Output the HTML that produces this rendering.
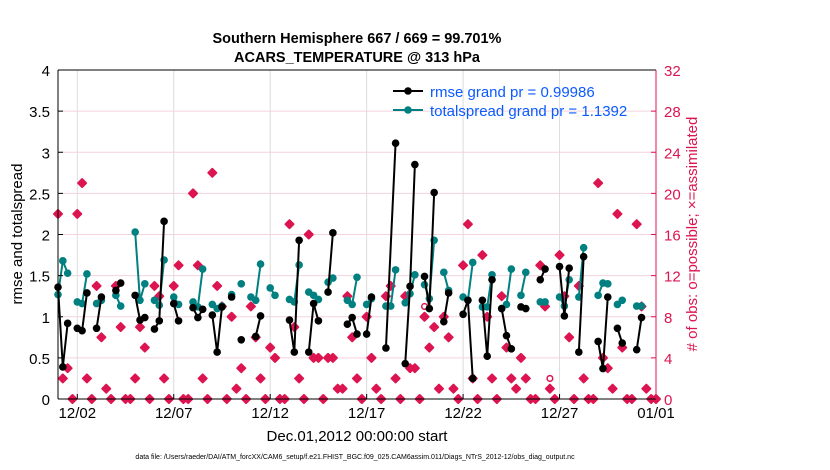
<!DOCTYPE html>
<html><head><meta charset="utf-8"><style>
body{margin:0;background:#fff;}
svg{display:block;font-family:"Liberation Sans",sans-serif;}
</style></head><body>
<svg id="chart" width="830" height="470">
<text x="357" y="43" text-anchor="middle" font-size="14.5" font-weight="bold">Southern Hemisphere 667 / 669 = 99.701%</text>
<text x="357" y="62" text-anchor="middle" font-size="14.5" font-weight="bold">ACARS_TEMPERATURE @ 313 hPa</text>
<g id="grid"></g><g id="marks"></g><g id="axes"></g>
<text transform="translate(22,234) rotate(-90)" text-anchor="middle" font-size="15">rmse and totalspread</text>
<text transform="translate(697,234) rotate(-90)" text-anchor="middle" font-size="15" fill="#dc1450"># of obs: o=possible; ×=assimilated</text>
<text x="357" y="441" text-anchor="middle" font-size="15">Dec.01,2012 00:00:00 start</text>
<text x="355" y="459" text-anchor="middle" font-size="7">data file: /Users/raeder/DAI/ATM_forcXX/CAM6_setup/f.e21.FHIST_BGC.f09_025.CAM6assim.011/Diags_NTrS_2012-12/obs_diag_output.nc</text>
<g>
<line x1="393" y1="91" x2="423" y2="91" stroke="#000" stroke-width="2"/><circle cx="408" cy="91" r="3.8" fill="#000"/>
<text x="430" y="97" font-size="15" fill="#0a5aff">rmse grand pr = 0.99986</text>
<line x1="393" y1="110" x2="423" y2="110" stroke="#008080" stroke-width="2"/><circle cx="408" cy="110" r="3.8" fill="#008080"/>
<text x="430" y="116" font-size="15" fill="#0a5aff">totalspread grand pr = 1.1392</text>
</g>
</svg>
<script>
const rmseT=[0,0.25,0.5,null,1,1.25,1.5,null,2,2.25,null,3,3.25,null,4,4.25,4.5,null,5,5.25,5.5,null,6,6.25,null,7,7.25,7.5,null,8,8.25,8.5,null,9,null,9.5,null,10.25,10.5,null,12,12.25,12.5,null,13,13.25,13.5,null,14,14.25,null,15,15.25,15.5,null,16,16.25,null,17,17.5,null,18,18.25,18.5,null,19,19.25,19.5,null,20,20.25,null,21,21.25,21.5,null,22,22.25,22.5,null,23,23.25,23.5,null,24,24.25,null,25,25.25,null,26,26.25,26.5,null,27,27.25,null,28,28.25,28.5,null,29,29.25,null,30,30.25];
const rmseV=[1.36,0.39,0.92,null,0.86,0.83,1.29,null,0.86,1.24,null,1.32,1.41,null,1.26,0.96,0.99,null,0.85,0.95,2.16,null,1.16,0.95,null,1.11,0.99,1.09,null,1.02,0.57,1.12,null,1.24,null,0.72,null,0.76,1.01,null,0.96,0.57,1.93,null,0.57,1.16,0.95,null,1.3,2.02,null,0.91,0.99,0.79,null,0.79,1.24,null,0.62,3.11,null,0.43,1.37,2.85,null,1.49,1.1,2.51,null,0.94,1.29,null,1.03,1.2,0.25,null,1.2,0.52,1.45,null,1.1,0.77,0.61,null,1.12,1.1,null,1.45,1.58,null,1.61,1.01,1.59,null,0.57,1.73,null,0.7,0.37,1.24,null,0.86,0.68,null,0.6,0.99];
const spreadT=[0,0.25,0.5,null,1,1.25,1.5,null,2,2.25,null,3,3.25,null,4,4.25,4.5,null,5,5.25,5.5,null,6,6.25,null,7,7.25,7.5,null,8,8.25,8.5,null,9,null,9.5,null,10,10.25,10.5,null,11,11.25,null,12,12.25,12.5,null,13,13.25,13.5,null,14,14.25,null,15,15.25,15.5,null,16,16.25,null,17,17.25,17.5,null,18,18.25,18.5,null,19,19.25,19.5,null,20,20.25,null,21,21.25,21.5,null,22,22.25,22.5,null,23,23.25,23.5,null,24,24.25,null,25,25.25,null,26,26.25,26.5,null,27,27.25,null,28,28.25,28.5,null,29,29.25,null,30,30.25];
const spreadV=[1.27,1.68,1.53,null,1.18,1.16,1.52,null,1.16,1.2,null,1.26,1.13,null,2.03,1.2,1.4,null,1.2,1.14,1.69,null,1.24,1.15,null,1.18,1.12,1.58,null,1.15,1.1,1.13,null,1.27,null,1.4,null,1.24,1.2,1.64,null,1.35,1.26,null,1.21,1.18,1.63,null,1.3,1.26,1.21,null,1.42,1.47,null,1.2,1.15,1.48,null,1.15,1.22,null,1.13,1.13,1.57,null,1.17,1.28,1.51,null,1.39,1.22,1.93,null,1.54,1.32,null,1.24,1.2,1.66,null,1.12,1.12,1.51,null,1.1,1.15,1.58,null,1.26,1.54,null,1.18,1.18,null,1.24,1.13,1.45,null,1.24,1.84,null,1.26,1.41,1.4,null,1.15,1.2,null,1.13,1.13];
const assimV=[18,2,3,0,18,21,2,0,11,6,1,0,11,7,0,0,2,7,5,0,11,10,2,0,11,13,0,0,20,13,2,0,22,11,9,0,8,1,3,0,9,6,2,0,5,4,0,0,17,7,2,0,16,4,4,0,4,4,1,1,10,6,2,0,8,4,1,0,10,11,2,0,10,3,3,0,8,5,7,1,8,6,1,0,13,17,2,0,14,8,2,0,10,5,2,1,4,2,0,0,13,9,1,0,14,10,6,0,11,2,0,0,21,4,3,1,18,5,0,0,17,9,1,0,0];
const possT=[19,25.5];
const possV=[9,2];
const yTicks=[0,0.5,1,1.5,2,2.5,3,3.5,4];
const y2Ticks=[0,4,8,12,16,20,24,28,32];
const xTickDays=[1,6,11,16,21,26,31];
const xTickLabels=['12/02','12/07','12/12','12/17','12/22','12/27','01/01'];

const NS='http://www.w3.org/2000/svg';
const L=58,R=656,T=70,B=399;
const xs=d=>L+(R-L)*d/31;
const ys=v=>B-(B-T)*v/4;
const y2s=v=>B-(B-T)*v/32;
function mk(tag,attrs,parent){const e=document.createElementNS(NS,tag);for(const k in attrs)e.setAttribute(k,attrs[k]);parent.appendChild(e);return e;}
const grid=document.getElementById('grid'),marks=document.getElementById('marks'),axes=document.getElementById('axes');
yTicks.forEach(v=>{if(v>0&&v<4){const g=mk('line',{x1:L,x2:R,y1:ys(v),y2:ys(v),stroke:'#f4d3de','stroke-width':1},grid);

}
const t=mk('text',{x:L-8,y:ys(v)+6,'text-anchor':'end','font-size':15},axes);t.textContent=String(v);


mk('line',{x1:L,x2:L+5,y1:ys(v),y2:ys(v),stroke:'#000'},axes);});
y2Ticks.forEach(v=>{const t=mk('text',{x:R+8,y:y2s(v)+6,'font-size':15,fill:'#dc1450'},axes);t.textContent=String(v);


mk('line',{x1:R-5,x2:R,y1:y2s(v),y2:y2s(v),stroke:'#dc1450'},axes);});
xTickDays.forEach((d,i)=>{if(d<31){const g=mk('line',{x1:xs(d),x2:xs(d),y1:T,y2:B,stroke:'#dcdcdc'},grid);

}
mk('line',{x1:xs(d),x2:xs(d),y1:B,y2:B-5,stroke:'#000'},axes);
const t=mk('text',{x:xs(d),y:B+19,'text-anchor':'middle','font-size':15},axes);t.textContent=xTickLabels[i];

});
mk('line',{x1:L,x2:R,y1:T,y2:T,stroke:'#000'},axes);
mk('line',{x1:L,x2:R,y1:B,y2:B,stroke:'#000'},axes);
mk('line',{x1:L,x2:L,y1:T,y2:B,stroke:'#000'},axes);
mk('line',{x1:R,x2:R,y1:T,y2:B,stroke:'#dc1450'},axes);

assimV.forEach((v,i)=>{const x=xs(i*0.25),y=y2s(v);
const p=mk('path',{d:`M${x} ${y-4}L${x+4} ${y}L${x} ${y+4}L${x-4} ${y}Z`,fill:'#dc1450',stroke:'#dc1450','stroke-width':2,'stroke-linejoin':'round'},marks);

});
possT.forEach((d,i)=>{const c=mk('circle',{cx:xs(d),cy:y2s(possV[i]),r:2.8,fill:'none',stroke:'#dc1450','stroke-width':1.5},marks);

});

function series(T_,V,color,name){let seg=[];const segs=[];
T_.forEach((t,i)=>{if(t===null||V[i]===null){if(seg.length)segs.push(seg);seg=[];}else seg.push([xs(t),ys(V[i])]);});
if(seg.length)segs.push(seg);
segs.forEach(s=>{const pl=mk('polyline',{points:s.map(p=>p.join(',')).join(' '),fill:'none',stroke:color,'stroke-width':2},marks);


s.forEach(p=>{const c=mk('circle',{cx:p[0],cy:p[1],r:3.8,fill:color},marks);

});});}
series(spreadT,spreadV,'#008080','totalspread');
series(rmseT,rmseV,'#000000','rmse');
</script>
</body></html>
